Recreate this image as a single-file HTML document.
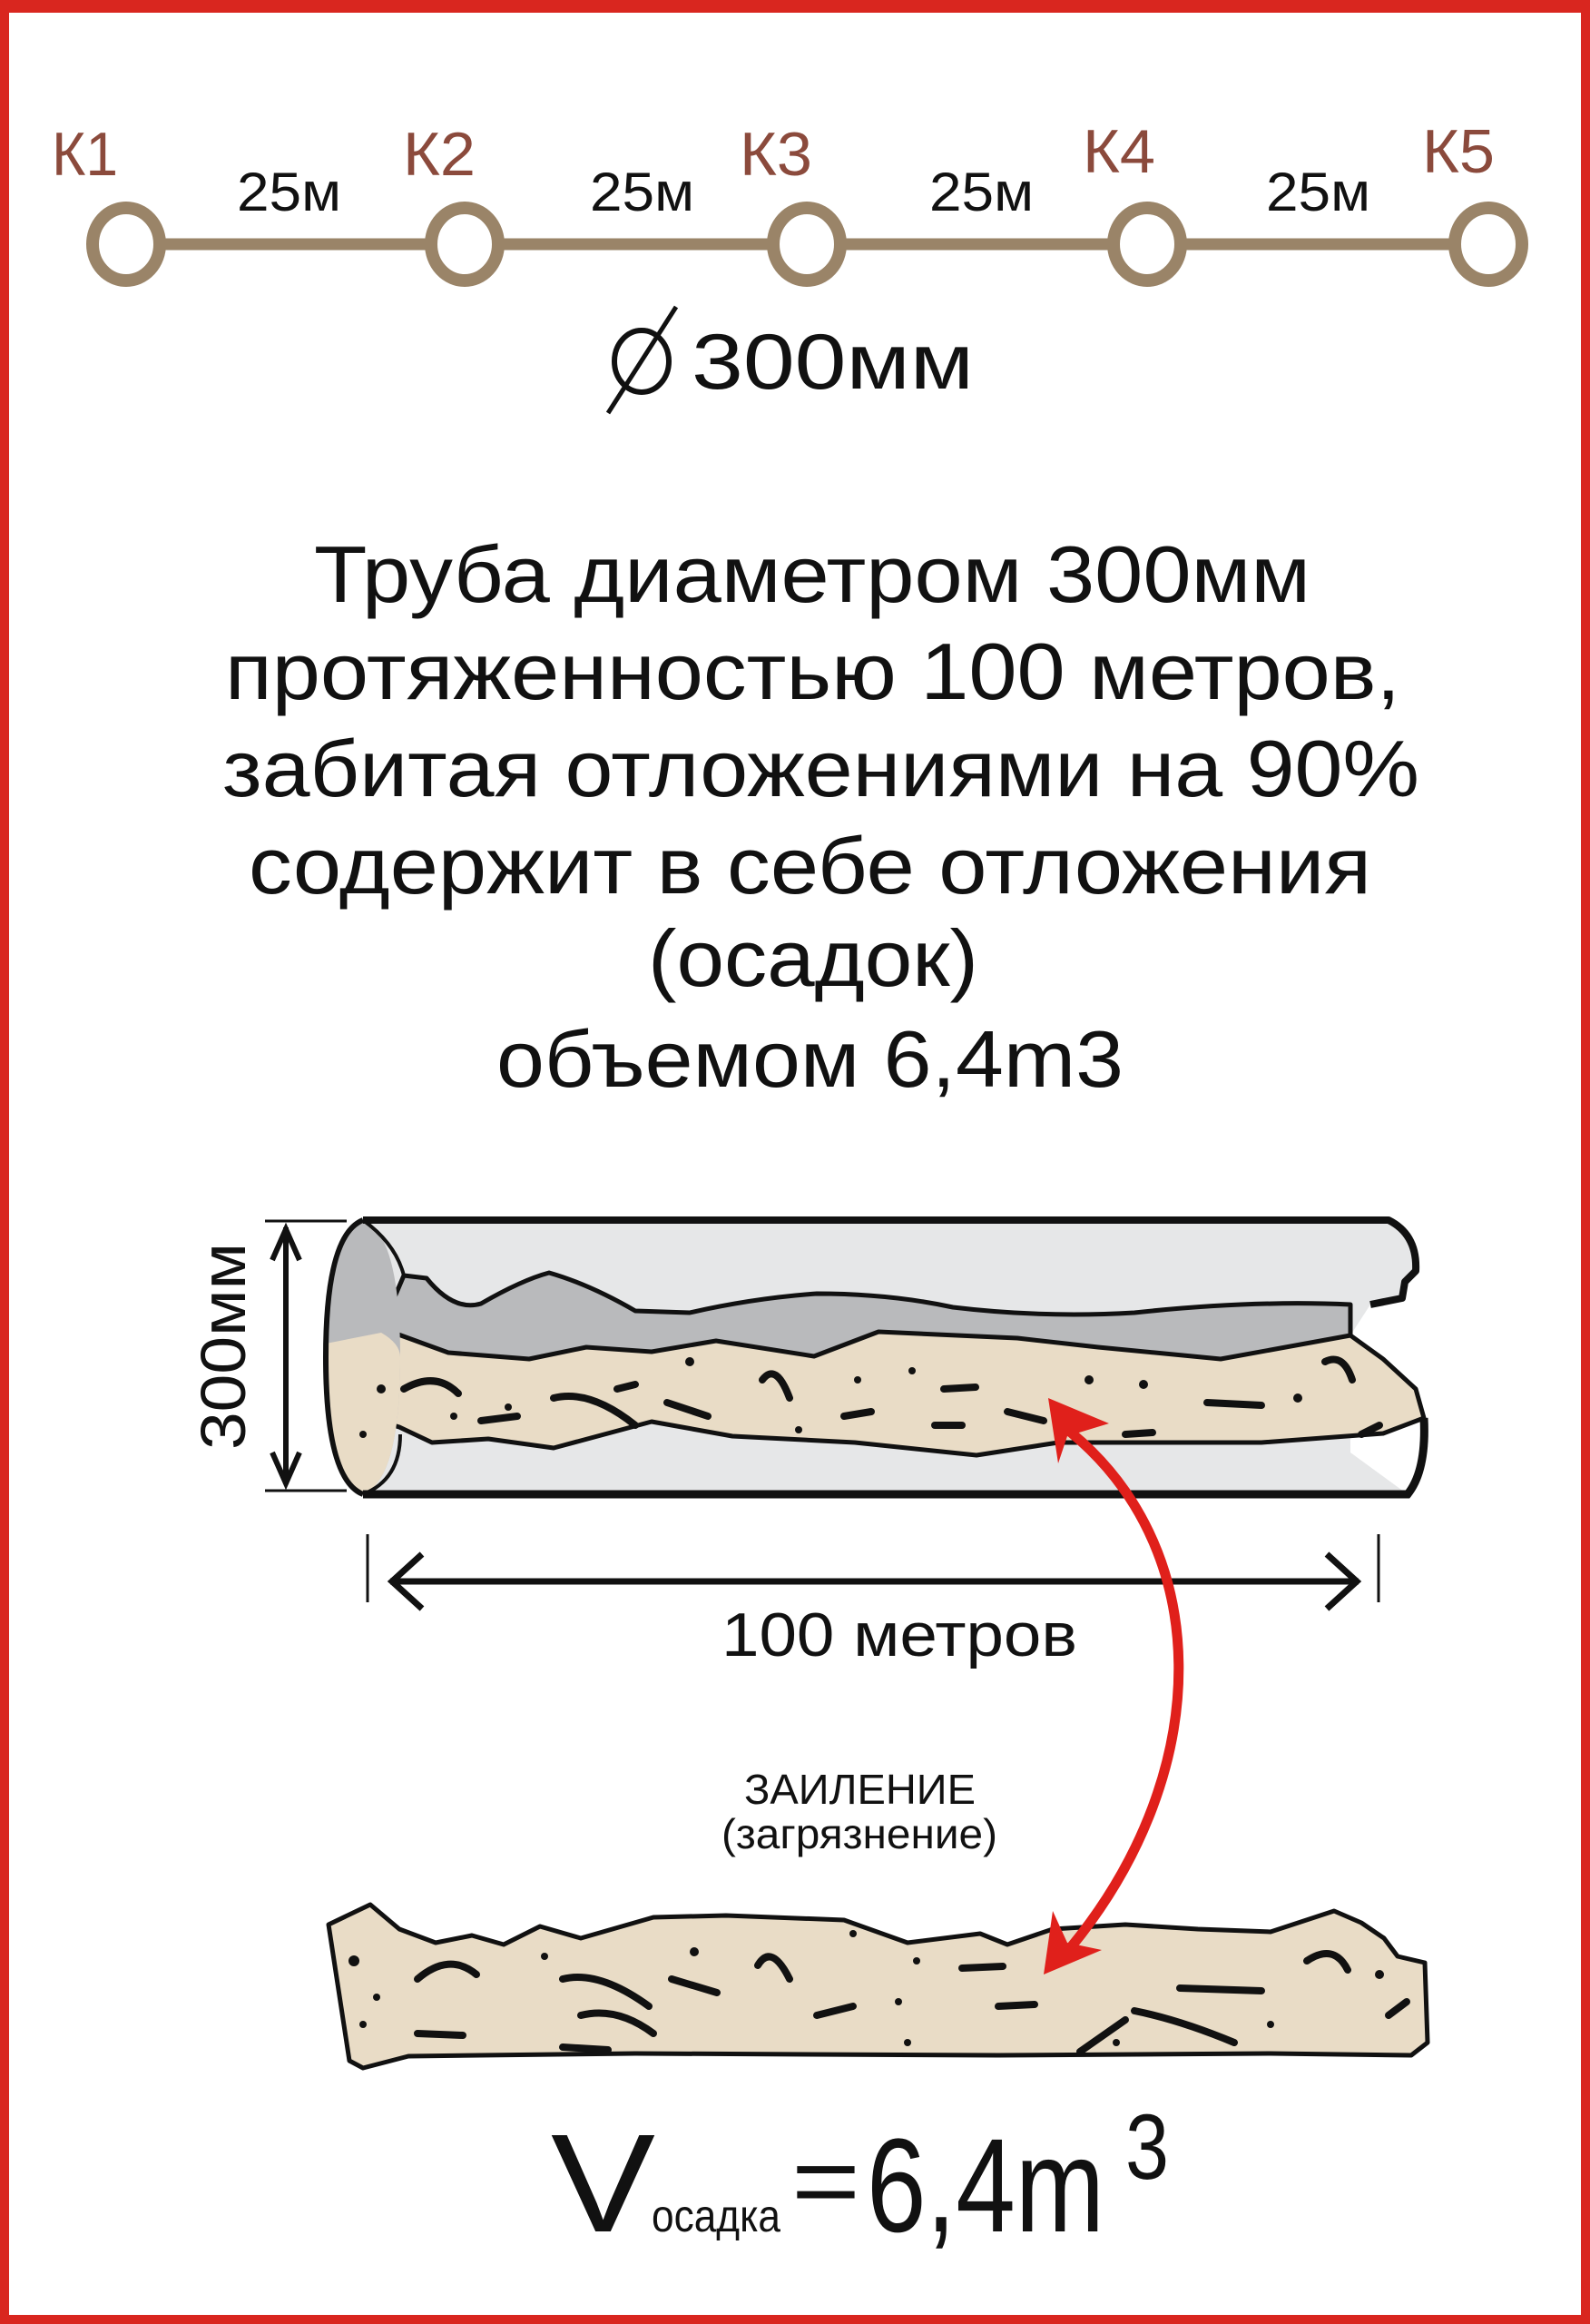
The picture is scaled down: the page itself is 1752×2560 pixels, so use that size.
<!DOCTYPE html>
<html><head><meta charset="utf-8"><style>
html,body{margin:0;padding:0;background:#fff}
svg{display:block}
text{font-family:"Liberation Sans",sans-serif;}
</style></head><body>
<svg width="1752" height="2560" viewBox="0 0 1752 2560" xmlns="http://www.w3.org/2000/svg">
<rect x="0" y="0" width="1752" height="2560" fill="#fff"/>
<rect x="5" y="5" width="1742" height="2550" fill="none" stroke="#d9261f" stroke-width="10"/>
<rect x="0" y="0" width="1752" height="14" fill="#d9261f"/>

<!-- network -->
<line x1="139" y1="269" x2="1641" y2="269" stroke="#9a8468" stroke-width="13"/>
<g fill="#fff" stroke="#9a8468" stroke-width="14">
<ellipse cx="139" cy="269" rx="37" ry="40"/>
<ellipse cx="512" cy="269" rx="37" ry="40"/>
<ellipse cx="889" cy="269" rx="37" ry="40"/>
<ellipse cx="1264" cy="269" rx="37" ry="40"/>
<ellipse cx="1640" cy="269" rx="37" ry="40"/>
</g>
<g fill="#8b4a3c" font-size="68">
<text x="57" y="193" textLength="73" lengthAdjust="spacingAndGlyphs">К1</text>
<text x="444" y="193" textLength="80" lengthAdjust="spacingAndGlyphs">К2</text>
<text x="815" y="193" textLength="80" lengthAdjust="spacingAndGlyphs">К3</text>
<text x="1193" y="190" textLength="80" lengthAdjust="spacingAndGlyphs">К4</text>
<text x="1567" y="190" textLength="80" lengthAdjust="spacingAndGlyphs">К5</text>
</g>
<g fill="#111" font-size="60">
<text x="261" y="232" textLength="115" lengthAdjust="spacingAndGlyphs">25м</text>
<text x="650" y="232" textLength="115" lengthAdjust="spacingAndGlyphs">25м</text>
<text x="1024" y="232" textLength="115" lengthAdjust="spacingAndGlyphs">25м</text>
<text x="1395" y="232" textLength="115" lengthAdjust="spacingAndGlyphs">25м</text>
</g>
<ellipse cx="707" cy="398" rx="30" ry="34" fill="none" stroke="#111" stroke-width="6"/>
<line x1="670" y1="455" x2="745" y2="338" stroke="#111" stroke-width="5"/>
<text x="762" y="428" font-size="86" fill="#111" textLength="311" lengthAdjust="spacingAndGlyphs">300мм</text>

<!-- paragraph -->
<g fill="#111" font-size="88">
<text x="346" y="663" textLength="1098" lengthAdjust="spacingAndGlyphs">Труба диаметром 300мм</text>
<text x="248" y="770" textLength="1295" lengthAdjust="spacingAndGlyphs">протяженностью 100 метров,</text>
<text x="245" y="877" textLength="1319" lengthAdjust="spacingAndGlyphs">забитая отложениями на 90%</text>
<text x="274" y="984" textLength="1237" lengthAdjust="spacingAndGlyphs">содержит в себе отложения</text>
<text x="714" y="1086" textLength="364" lengthAdjust="spacingAndGlyphs">(осадок)</text>
<text x="547" y="1197" textLength="691" lengthAdjust="spacingAndGlyphs">объемом 6,4m3</text>
</g>

<!-- pipe -->
<path d="M400 1344 L1530 1344 Q1562 1360 1560 1400 L1548 1412 L1545 1430 L1510 1437 L1488 1471 L1488 1600 L1551 1646 L400 1646 Z" fill="#e6e7e8" stroke="none"/>
<path d="M445 1405 L470 1408 Q500 1445 530 1436 Q575 1410 605 1402 Q650 1415 700 1444 L760 1446 Q830 1430 900 1425 Q980 1425 1050 1440 Q1150 1452 1250 1446 Q1380 1432 1488 1437 L1488 1510 L400 1510 Z" fill="#b9babc" stroke="#111" stroke-width="5" stroke-linejoin="round"/>
<path d="M359 1480 L417 1462 L494 1490 L583 1497 L646 1484 L718 1489 L789 1477 L897 1494 L968 1467 L1121 1474 L1210 1484 L1345 1497 L1488 1471 L1524 1497 L1560 1530 L1569 1562 L1524 1579 L1390 1589 L1166 1589 L1076 1603 L942 1589 L807 1582 L718 1566 L610 1595 L538 1585 L476 1589 L440 1572 L400 1560 Z" fill="#e9dcc6" stroke="#111" stroke-width="5" stroke-linejoin="round"/>
<!-- front face -->
<path d="M400 1344 Q359 1360 359 1495 Q359 1630 400 1646 Q441 1630 441 1495 Q441 1360 400 1344 Z" fill="#b9babc"/>
<path d="M359 1480 L420 1468 Q441 1480 441 1495 Q441 1630 400 1646 Q359 1630 359 1495 Z" fill="#e9dcc6"/>
<path d="M400 1344 Q359 1360 359 1495 Q359 1630 400 1646" fill="none" stroke="#111" stroke-width="6"/>
<path d="M400 1344 Q436 1370 445 1405" fill="none" stroke="#111" stroke-width="4"/>
<path d="M400 1646 Q441 1630 441 1580" fill="none" stroke="#111" stroke-width="4"/>
<path d="M400 1344 L1530 1344 Q1562 1360 1560 1400 L1548 1412 L1545 1430 L1510 1437" fill="none" stroke="#111" stroke-width="8" stroke-linejoin="round"/>
<path d="M400 1646 L1551 1646 Q1572 1620 1569 1562" fill="none" stroke="#111" stroke-width="9"/>
<!-- flecks in pipe -->
<g stroke="#111" stroke-width="8" fill="none" stroke-linecap="round">
<path d="M445 1530 Q480 1510 505 1535"/><path d="M610 1540 Q650 1530 700 1570"/>
<path d="M735 1545 L780 1560"/><path d="M840 1520 Q855 1500 870 1540"/>
<path d="M1040 1530 L1075 1528"/><path d="M1330 1545 L1390 1548"/>
<path d="M1030 1570 L1060 1570"/><path d="M1460 1500 Q1480 1490 1490 1520"/>
<path d="M930 1560 L960 1555"/><path d="M1240 1580 L1270 1578"/>
<path d="M1500 1580 L1520 1570"/><path d="M680 1530 L700 1525"/>
<path d="M1110 1555 L1150 1565"/><path d="M530 1565 L570 1560"/>
</g>
<g fill="#111">
<circle cx="420" cy="1530" r="5"/><circle cx="400" cy="1580" r="4"/><circle cx="500" cy="1560" r="4"/>
<circle cx="760" cy="1500" r="5"/><circle cx="945" cy="1520" r="4"/><circle cx="1005" cy="1510" r="4"/>
<circle cx="1200" cy="1520" r="5"/><circle cx="1260" cy="1525" r="5"/><circle cx="880" cy="1575" r="4"/>
<circle cx="1430" cy="1540" r="5"/><circle cx="560" cy="1550" r="4"/>
</g>
<!-- vertical dimension -->
<line x1="292" y1="1345" x2="382" y2="1345" stroke="#111" stroke-width="3"/>
<line x1="292" y1="1642" x2="382" y2="1642" stroke="#111" stroke-width="3"/>
<line x1="315" y1="1352" x2="315" y2="1635" stroke="#111" stroke-width="6"/>
<path d="M300 1388 L315 1354 L330 1388 M300 1600 L315 1634 L330 1600" fill="none" stroke="#111" stroke-width="6"/>
<text transform="translate(270 1597) rotate(-90)" font-size="70" fill="#111" textLength="228" lengthAdjust="spacingAndGlyphs">300мм</text>
<!-- horizontal dimension -->
<line x1="405" y1="1690" x2="405" y2="1765" stroke="#111" stroke-width="3"/>
<line x1="1519" y1="1690" x2="1519" y2="1765" stroke="#111" stroke-width="3"/>
<line x1="430" y1="1742" x2="1497" y2="1742" stroke="#111" stroke-width="7"/>
<path d="M465 1712 L432 1742 L465 1772 M1462 1712 L1495 1742 L1462 1772" fill="none" stroke="#111" stroke-width="7"/>
<text x="795" y="1824" font-size="68" fill="#111" textLength="392" lengthAdjust="spacingAndGlyphs">100 метров</text>

<!-- labels -->
<text x="820" y="1987" font-size="46" fill="#111" textLength="255" lengthAdjust="spacingAndGlyphs">ЗАИЛЕНИЕ</text>
<text x="795" y="2036" font-size="46" fill="#111" textLength="304" lengthAdjust="spacingAndGlyphs">(загрязнение)</text>

<!-- bottom sediment -->
<path d="M362 2120 L408 2098 L440 2125 L480 2140 L520 2132 L555 2142 L595 2122 L640 2135 L720 2112 L800 2110 L930 2115 L1000 2140 L1080 2130 L1110 2142 L1160 2125 L1240 2120 L1320 2125 L1400 2128 L1470 2105 L1500 2118 L1525 2135 L1540 2155 L1570 2162 L1573 2250 L1555 2264 L1400 2262 L1100 2264 L700 2262 L450 2265 L400 2278 L385 2270 Z" fill="#e9dcc6" stroke="#111" stroke-width="5" stroke-linejoin="round"/>
<g stroke="#111" stroke-width="8" fill="none" stroke-linecap="round">
<path d="M460 2180 Q495 2150 525 2175"/><path d="M620 2180 Q660 2170 715 2210"/>
<path d="M740 2180 L790 2195"/><path d="M835 2165 Q850 2140 870 2180"/>
<path d="M1060 2168 L1105 2166"/><path d="M1300 2190 L1390 2193"/>
<path d="M1440 2160 Q1470 2140 1485 2170"/><path d="M640 2220 Q680 2210 720 2240"/>
<path d="M900 2220 L940 2210"/><path d="M1250 2215 Q1300 2225 1360 2250"/>
<path d="M460 2240 L510 2242"/><path d="M620 2255 L670 2258"/>
<path d="M1100 2210 L1140 2208"/><path d="M1530 2220 L1550 2205"/>
<path d="M1190 2260 L1240 2225"/>
</g>
<g fill="#111">
<circle cx="390" cy="2160" r="6"/><circle cx="415" cy="2200" r="4"/><circle cx="400" cy="2230" r="4"/>
<circle cx="600" cy="2155" r="4"/><circle cx="765" cy="2150" r="5"/><circle cx="940" cy="2130" r="4"/>
<circle cx="1010" cy="2160" r="4"/><circle cx="990" cy="2205" r="4"/><circle cx="1520" cy="2175" r="5"/>
<circle cx="1400" cy="2230" r="4"/><circle cx="1230" cy="2250" r="4"/><circle cx="1000" cy="2250" r="4"/>
</g>

<!-- red arrow -->
<path d="M1170 1570 C1340 1700 1340 1950 1180 2145" fill="none" stroke="#e0201b" stroke-width="11" stroke-linecap="round"/>
<path d="M1155 1540 L1222 1568 L1176 1582 L1166 1612 Z" fill="#e0201b"/>
<path d="M1150 2175 L1160 2105 L1176 2140 L1214 2148 Z" fill="#e0201b"/>

<!-- formula -->
<text x="607" y="2458" font-size="154" fill="#111" textLength="115" lengthAdjust="spacingAndGlyphs">V</text>
<text x="718" y="2458" font-size="50" fill="#111" textLength="142" lengthAdjust="spacingAndGlyphs">осадка</text>
<text x="872" y="2440" font-size="110" fill="#111" textLength="76" lengthAdjust="spacingAndGlyphs">=</text>
<text x="955" y="2458" font-size="147" fill="#111" textLength="262" lengthAdjust="spacingAndGlyphs">6,4m</text>
<text x="1240" y="2400" font-size="102" fill="#111" textLength="48" lengthAdjust="spacingAndGlyphs">3</text>
</svg>
</body></html>
